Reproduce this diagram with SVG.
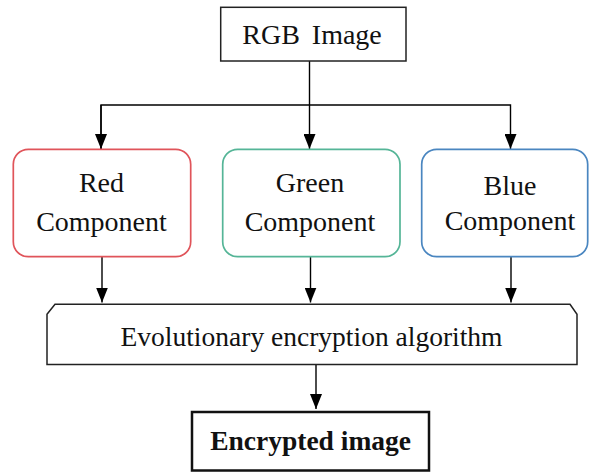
<svg xmlns="http://www.w3.org/2000/svg" width="589" height="475" viewBox="0 0 589 475">
<defs>
<marker id="ah" markerUnits="userSpaceOnUse" markerWidth="15" markerHeight="12" refX="15" refY="6" orient="auto" viewBox="0 0 15 12">
<path d="M0,0 L15,6 L0,12 Z" fill="#000"/>
</marker>
<style>
.t{font-family:"Liberation Serif","Times New Roman",serif;fill:#111;text-anchor:middle}
.b{fill:#fff;stroke:#222;stroke-width:1.5}
.c{fill:#fff;stroke-width:1.7}
.ln{fill:none;stroke:#000;stroke-width:1.4}
</style>
</defs>
<rect width="589" height="475" fill="#fff"/>
<g id="connectors">
<line class="ln" x1="309.5" y1="61" x2="309.5" y2="149" marker-end="url(#ah)"/>
<polyline class="ln" points="101,149 101,105 510.5,105 510.5,149" marker-end="url(#ah)"/>
<line class="ln" x1="101" y1="105" x2="101" y2="149" marker-end="url(#ah)"/>
<line class="ln" x1="102" y1="257" x2="102" y2="302.5" marker-end="url(#ah)"/>
<line class="ln" x1="310.5" y1="257" x2="310.5" y2="302.5" marker-end="url(#ah)"/>
<line class="ln" x1="511" y1="257" x2="511" y2="302.5" marker-end="url(#ah)"/>
<line class="ln" x1="316" y1="364.5" x2="316" y2="409" marker-end="url(#ah)"/>
</g>
<g id="rgb">
<rect class="b" x="220.7" y="7.3" width="185.3" height="53.7"/>
<text class="t" x="312" y="44" font-size="28" word-spacing="5">RGB Image</text>
</g>
<g id="red">
<rect class="c" stroke="#e0545a" x="13.3" y="149.3" width="177.4" height="107.4" rx="15"/>
<text class="t" x="101.5" y="191.7" font-size="28">Red</text>
<text class="t" x="101.5" y="230.7" font-size="28">Component</text>
</g>
<g id="green">
<rect class="c" stroke="#55b597" x="222.7" y="149.3" width="177.3" height="107.4" rx="15"/>
<text class="t" x="310" y="191.7" font-size="28">Green</text>
<text class="t" x="310" y="230.7" font-size="28">Component</text>
</g>
<g id="blue">
<rect class="c" stroke="#4a86c0" x="421.7" y="149.3" width="166" height="107.4" rx="15"/>
<text class="t" x="510" y="194.5" font-size="28">Blue</text>
<text class="t" x="510" y="229.5" font-size="28">Component</text>
</g>
<g id="evo">
<path class="b" d="M47,314.3 L55,304.3 L570,304.3 L577,314.3 L577,364.5 L47,364.5 Z"/>
<text class="t" x="311.5" y="346" font-size="28" textLength="382" lengthAdjust="spacingAndGlyphs">Evolutionary encryption algorithm</text>
</g>
<g id="encrypted">
<rect x="192" y="412" width="237" height="58.5" fill="#fff" stroke="#111" stroke-width="2.5"/>
<text class="t" x="310.6" y="450" font-size="27.5" font-weight="bold">Encrypted image</text>
</g>
</svg>
